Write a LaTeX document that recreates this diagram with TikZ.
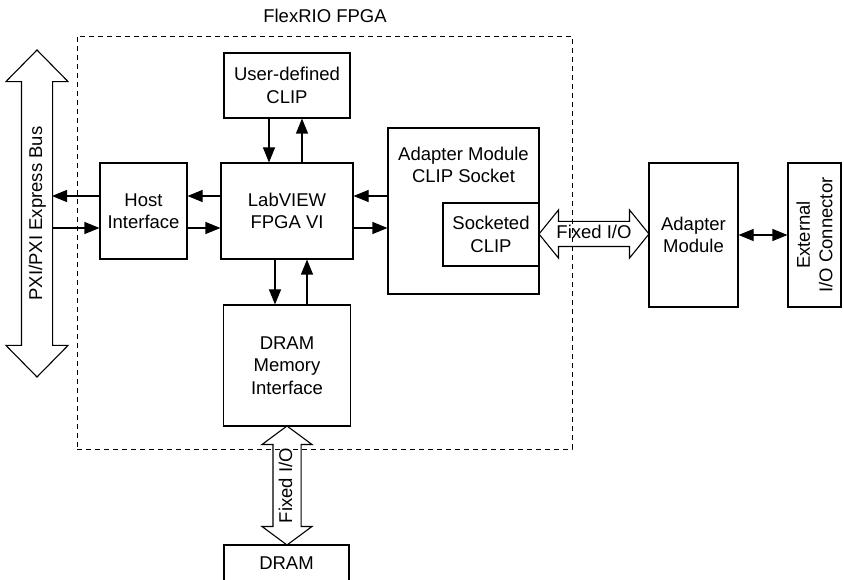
\documentclass[tikz,border=0pt]{standalone}
\usepackage{fontspec}
\setmainfont{Liberation Sans}
\usepackage{tikz}
\usetikzlibrary{arrows.meta, positioning, shapes.arrows}

\begin{document}
\begin{tikzpicture}[
    x = 1pt, y = -1pt, % picture units, y grows downwards
    > = {Triangle[length=15pt, width=12pt]}, % arrow head style
    font = \fontsize{18.5}{22.5}\selectfont,
    line width = 1.1pt, % line style
    every node/.style = {align = center}
]

\tikzstyle{block}=[
    draw = black,
    line width = 1.1pt,
    inner sep = 0pt
]
\tikzstyle{fat arrow}=[
    draw = black,
    double arrow,
    double arrow head indent = 0pt,
    line width = 1.1pt,
    minimum width = 0pt,
    text height = 14pt,
    text depth = 4pt,
    inner xsep = 0pt
]

\useasboundingbox (0,0) rectangle (844,580);

% FPGA border
\node[draw, dashed, dash pattern = on 5pt off 4pt, line width = 0.9pt, minimum width = 495pt, minimum height = 413pt] (fpga) at (324.5,242.5) {};
\node (fpga label) at (325,16) {FlexRIO FPGA};

\node[block, minimum width = 87pt, minimum height = 96pt] (host) at (143.5,211) {Host\\Interface};
\node[block, minimum width = 132pt, minimum height = 96pt] (labview) at (287,211) {LabVIEW\\FPGA VI};
\node[block, minimum width = 126pt, minimum height = 65pt] (clip) at (287,85.5) {User-defined\\CLIP};
\node[block, minimum width = 127pt, minimum height = 121pt] (dramif) at (287,365.5) {DRAM\\Memory\\Interface};
\node[block, minimum width = 151pt, minimum height = 166pt] (socket) at (463.5,211) {};
\node (socket title) at (463.5,165) {Adapter Module\\CLIP Socket};
\node[block, minimum width = 96pt, minimum height = 63pt] (socketed) at (491,234.5) {Socketed\\CLIP};

\node[block, minimum width = 89pt, minimum height = 144pt] (adapter) at (693.5,235) {Adapter\\Module};
\node[block, rotate = 90, minimum width = 144pt, minimum height = 53pt] (extcon) at (814.5,235) {External\\I/O Connector};
\node[block, minimum width = 125pt, minimum height = 37pt] (dram) at (286.5,563.5) {DRAM};

% wide buses
\node[fat arrow, rotate = 90, minimum height = 327pt, inner ysep = 6pt, double arrow head extend = 15.5pt, double arrow tip angle = 89] (pxi) at (37,213.5) {PXI/PXI Express Bus};
\node[fat arrow, minimum height = 110pt, inner ysep = 3pt, double arrow head extend = 11.5pt, double arrow tip angle = 102] (fixed io) at (594,234) {Fixed I/O};
\node[fat arrow, rotate = 90, minimum height = 119pt, inner ysep = 4.5pt, double arrow head extend = 11pt, double arrow tip angle = 107] (dram io) at (287,485.5) {Fixed I/O};
\coordinate (bus) at (52,211);

\draw[->] ([yshift=15pt]host.west) -- ([yshift=15pt]bus);
\draw[->] ([yshift=-17pt]bus) -- ([yshift=-17pt]host.west);
\draw[->] ([yshift=15pt]labview.west) -- ([yshift=15pt]host.east);
\draw[->] ([yshift=-17pt]host.east) -- ([yshift=-17pt]labview.west);
\draw[->] ([yshift=15pt]socket.west) -- ([yshift=15pt]labview.east);
\draw[->] ([yshift=-17pt]labview.east) -- ([yshift=-17pt]socket.west);
\draw[->] ([xshift=-18pt]clip.south) -- ([xshift=-18pt]labview.north);
\draw[->] ([xshift=15pt]labview.north) -- ([xshift=15pt]clip.south);
\draw[->] ([xshift=-12pt]labview.south) -- ([xshift=-12pt]dramif.north);
\draw[->] ([xshift=20pt]dramif.north) -- ([xshift=20pt]labview.south);
\draw[<->] (adapter) -- (extcon);

%\draw[red, dashed] (0,0) grid (844,580);
\end{tikzpicture}
\end{document}
